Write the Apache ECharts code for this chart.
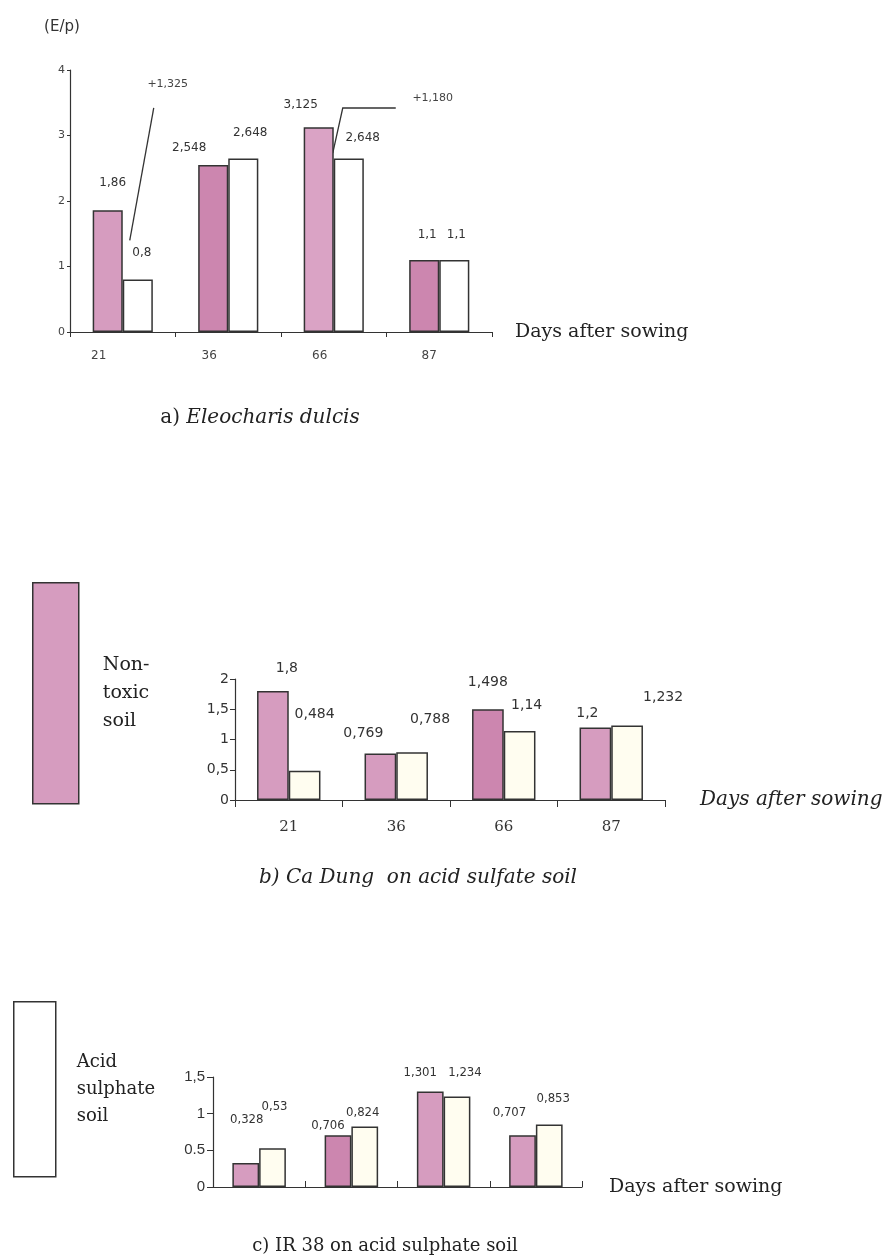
<!DOCTYPE html>
<html>
<head>
<meta charset="utf-8">
<script src="https://cdn.jsdelivr.net/npm/echarts@6/dist/echarts.min.js"></script>
<style>
html,body{margin:0;padding:0;background:#fff;}
#chart{width:891px;height:1255px;}
</style>
</head>
<body>
<div id="chart"></div>
<script>
// ---------- data ----------
const categories = ['21', '36', '66', '87'];
const aNonToxic = [1.86, 2.548, 3.125, 1.1];
const aAcid = [0.8, 2.648, 2.648, 1.1];
const aDiffLabels = ['+1,325', '+1,180'];
const bNonToxic = [1.8, 0.769, 1.498, 1.2];
const bAcid = [0.484, 0.788, 1.14, 1.232];
const cNonToxic = [0.328, 0.706, 1.301, 0.707];
const cAcid = [0.53, 0.824, 1.234, 0.853];
const aYTicks = ['0', '1', '2', '3', '4'];
const bYTicks = ['0', '0,5', '1', '1,5', '2'];
const cYTicks = ['0', '0.5', '1', '1,5'];
const seriesNames = ['Non-toxic soil', 'Acid sulphate soil'];

// ---------- styling / layout ----------
const PINK = '#d69cbf', PINK_D = '#cc86af', PINK_L = '#daa3c5', WHITE = '#ffffff', CREAM = '#fffdf0', EDGE = '#333333';
const aPinkShade = [PINK, PINK_D, PINK_L, PINK_D];
const bPinkShade = [PINK, PINK, PINK_D, PINK];
const cPinkShade = [PINK, PINK_D, PINK, PINK];
const aPinkOff = [[5, -21], [-24, -11], [-18, -16], [3, -19]];
const aWhiteOff = [[4, -21], [7, -20], [14, -15], [2, -19]];
const bPinkOff = [[14, -16], [-17, -13], [0, -20], [-8, -7]];
const bWhiteOff = [[10, -49], [18, -26], [7, -19], [36, -21]];
const cPinkOff = [[1, -37], [-10, -3], [-10, -12], [-13, -16]];
const cWhiteOff = [[2, -35], [-2, -7], [8, -17], [4, -19]];
const aCatShift = [48, 38, 28, 20];

const fmt = v => String(v).replace('.', ',');

function items(vals, shades, offs) {
  return vals.map((v, i) => ({
    value: v,
    itemStyle: { color: shades[i] },
    label: { offset: offs[i] }
  }));
}
function barSeries(name, gi, data, fontSize, fontFamily, gap) {
  return {
    type: 'bar', name: name, xAxisIndex: gi, yAxisIndex: gi,
    barGap: 0, barCategoryGap: gap,
    data: data,
    itemStyle: { borderColor: EDGE, borderWidth: 1.5 },
    label: {
      show: true, position: 'top', distance: 0,
      formatter: p => fmt(p.value),
      fontSize: fontSize, fontFamily: fontFamily, color: '#333'
    },
    emphasis: { disabled: true },
    animation: false
  };
}
const axisLine = { show: true, lineStyle: { color: '#333', width: 1.2 } };

const chart = echarts.init(document.getElementById('chart'), null, { renderer: 'canvas' });
const option = {
  backgroundColor: '#fff',
  animation: false,
  grid: [
    { left: 70, top: 70, width: 422, height: 262 },
    { left: 235, top: 679, width: 430, height: 121 },
    { left: 213, top: 1077, width: 369, height: 110 }
  ],
  xAxis: [
    {
      gridIndex: 0, type: 'category',
      data: categories.map((c, i) => ({ value: c, textStyle: { padding: [0, aCatShift[i], 0, 0] } })),
      axisLine: axisLine, axisTick: { show: true, length: 5, lineStyle: { color: '#333' } },
      axisLabel: { margin: 18, fontSize: 12, fontFamily: 'DejaVu Sans', color: '#444' },
      name: 'Days after sowing', nameLocation: 'end', nameGap: 23,
      nameTextStyle: { fontFamily: 'DejaVu Serif', fontSize: 19, color: '#222', verticalAlign: 'middle', padding: [0, 0, 8, 0] }
    },
    {
      gridIndex: 1, type: 'category', data: categories,
      axisLine: axisLine, axisTick: { show: true, length: 7, lineStyle: { color: '#333' } },
      axisLabel: { margin: 20, fontSize: 15, fontFamily: 'DejaVu Serif', color: '#333' },
      name: 'Days after sowing', nameLocation: 'end', nameGap: 35,
      nameTextStyle: { fontFamily: 'DejaVu Serif', fontStyle: 'italic', fontSize: 20, color: '#222', verticalAlign: 'middle' }
    },
    {
      gridIndex: 2, type: 'category', data: categories,
      axisLine: axisLine, axisTick: { show: true, inside: true, length: 6, lineStyle: { color: '#333' } },
      axisLabel: { show: false },
      name: 'Days after sowing', nameLocation: 'end', nameGap: 27,
      nameTextStyle: { fontFamily: 'DejaVu Serif', fontSize: 19, color: '#222', verticalAlign: 'middle' }
    }
  ],
  yAxis: [
    {
      gridIndex: 0, type: 'value', min: 0, max: 4, interval: 1,
      axisLine: axisLine, axisTick: { show: true, length: 3, lineStyle: { color: '#333' } },
      splitLine: { show: false },
      axisLabel: { margin: 5, fontSize: 11, fontFamily: 'DejaVu Sans', color: '#444', formatter: v => aYTicks[Math.round(v)] },
      name: '(E/p)', nameLocation: 'end', nameGap: 35,
      nameTextStyle: { fontFamily: 'DejaVu Sans', fontSize: 15, color: '#333', padding: [0, 16, 0, 0] }
    },
    {
      gridIndex: 1, type: 'value', min: 0, max: 2, interval: 0.5,
      axisLine: axisLine, axisTick: { show: true, length: 5, lineStyle: { color: '#333' } },
      splitLine: { show: false },
      axisLabel: { margin: 6, fontSize: 14, fontFamily: 'DejaVu Sans', color: '#333', formatter: v => bYTicks[Math.round(v * 2)] }
    },
    {
      gridIndex: 2, type: 'value', min: 0, max: 1.5, interval: 0.5,
      axisLine: axisLine, axisTick: { show: true, length: 6, lineStyle: { color: '#333' } },
      splitLine: { show: false },
      axisLabel: { margin: 8, fontSize: 15, fontFamily: 'Liberation Sans', color: '#333', formatter: v => cYTicks[Math.round(v * 2)] }
    }
  ],
  legend: [
    {
      data: [seriesNames[0]], left: 32, top: 582, padding: 0, orient: 'vertical',
      itemWidth: 46, itemHeight: 221, selectedMode: false, icon: 'rect',
      itemStyle: { color: PINK, borderColor: EDGE, borderWidth: 1.5 },
      formatter: () => 'Non-\ntoxic\nsoil',
      textStyle: { fontFamily: 'DejaVu Serif', fontSize: 19, lineHeight: 28, color: '#222', padding: [0, 0, 64, 19] }
    },
    {
      data: [seriesNames[1]], left: 13, top: 1001, padding: 0, orient: 'vertical',
      itemWidth: 42, itemHeight: 175, selectedMode: false, icon: 'rect',
      itemStyle: { color: WHITE, borderColor: EDGE, borderWidth: 1.5 },
      formatter: () => 'Acid\nsulphate\nsoil',
      textStyle: { fontFamily: 'DejaVu Serif', fontSize: 18, lineHeight: 27, color: '#222', padding: [0, 0, 80, 16] }
    }
  ],
  series: [
    barSeries(seriesNames[0], 0, items(aNonToxic, aPinkShade, aPinkOff), 12, 'DejaVu Sans', '43%'),
    barSeries(seriesNames[1], 0, items(aAcid, [WHITE, WHITE, WHITE, WHITE], aWhiteOff), 12, 'DejaVu Sans', '43%'),
    barSeries(seriesNames[0], 1, items(bNonToxic, bPinkShade, bPinkOff), 14, 'DejaVu Sans', '41%'),
    barSeries(seriesNames[1], 1, items(bAcid, [CREAM, CREAM, CREAM, CREAM], bWhiteOff), 14, 'DejaVu Sans', '41%'),
    barSeries(seriesNames[0], 2, items(cNonToxic, cPinkShade, cPinkOff), 13, 'DejaVu Sans Condensed', '42%'),
    barSeries(seriesNames[1], 2, items(cAcid, [CREAM, CREAM, CREAM, CREAM], cWhiteOff), 13, 'DejaVu Sans Condensed', '42%')
  ]
};
chart.setOption(option);

// ---------- annotations and captions ----------
const cp = (g, x, v) => chart.convertToPixel({ gridIndex: g }, [x, v]);
const l1a = cp(0, 0, 1.40), l1b = cp(0, 0, 3.42), t1 = cp(0, 0, 3.79);
const l2a = cp(0, 2, 2.73), l2b = cp(0, 2, 3.42), t2 = cp(0, 2, 3.57);
const lineStyle = { stroke: '#333', lineWidth: 1.3, fill: null };
const serifTitle = (x, y, rich, text, size) => ({
  type: 'text', x: x, y: y,
  style: {
    text: text, align: 'center', verticalAlign: 'middle',
    fontFamily: 'DejaVu Serif', fontSize: size, fill: '#222', rich: rich
  }
});
chart.setOption({
  graphic: [
    { type: 'polyline', shape: { points: [[l1a[0] + 7, l1a[1]], [l1b[0] + 31, l1b[1]]] }, style: lineStyle },
    { type: 'polyline', shape: { points: [[l2a[0] - 1, l2a[1]], [l2b[0] + 9, l2b[1]], [l2b[0] + 62, l2b[1]]] }, style: lineStyle },
    { type: 'text', x: t1[0] + 45, y: t1[1], style: { text: aDiffLabels[0], align: 'center', verticalAlign: 'middle', fontFamily: 'DejaVu Sans', fontSize: 11, fill: '#444' } },
    { type: 'text', x: t2[0] + 99, y: t2[1], style: { text: aDiffLabels[1], align: 'center', verticalAlign: 'middle', fontFamily: 'DejaVu Sans', fontSize: 11, fill: '#444' } },
    serifTitle(260, 418, { n: { fontFamily: 'DejaVu Serif', fontSize: 20, fill: '#222' }, i: { fontFamily: 'DejaVu Serif', fontStyle: 'italic', fontSize: 20, fill: '#222' } }, '{n|a) }{i|Eleocharis dulcis}', 20),
    serifTitle(418, 878, { i: { fontFamily: 'DejaVu Serif', fontStyle: 'italic', fontSize: 20, fill: '#222' } }, '{i|b) Ca Dung  on acid sulfate soil}', 20),
    serifTitle(385, 1246, { n: { fontFamily: 'DejaVu Serif', fontSize: 18, fill: '#222' } }, '{n|c) IR 38 on acid sulphate soil}', 18)
  ]
});
</script>
</body>
</html>
